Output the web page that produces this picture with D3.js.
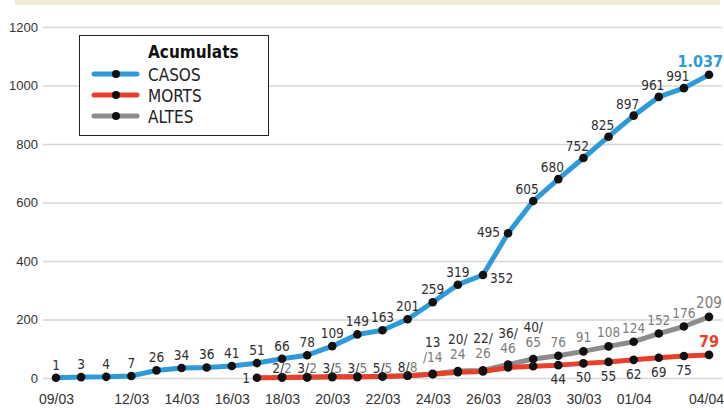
<!DOCTYPE html>
<meta charset="utf-8">
<script src="https://d3js.org/d3.v7.min.js"></script>
<style>
  body { margin: 0; background: #fff; }
  .num { font-family: "Liberation Sans Narrow", "DejaVu Sans Condensed", sans-serif; font-size: 13.5px; }
  .axis text { font-family: "Liberation Sans", Arial, sans-serif; font-size: 13px; fill: #333; }
  .xaxis text { font-size: 14px; }
</style>
<body>
<div id="chart"></div>
<script>
// dates 09/03 .. 04/04
var dates = ["09/03","10/03","11/03","12/03","13/03","14/03","15/03","16/03","17/03","18/03",
  "19/03","20/03","21/03","22/03","23/03","24/03","25/03","26/03","27/03","28/03",
  "29/03","30/03","31/03","01/04","02/04","03/04","04/04"];
var dateTicks = ["09/03","12/03","14/03","16/03","18/03","20/03","22/03","24/03","26/03","28/03","30/03","01/04","04/04"];
var yTicks = [0, 200, 400, 600, 800, 1000, 1200];

// cumulative cases from 09/03
var casos = [1, 3, 4, 7, 26, 34, 36, 41, 51, 66, 78, 109, 149, 163, 201, 259, 319, 352,
  495, 605, 680, 752, 825, 897, 961, 991, 1037];
// deaths from 17/03
var morts = [1, 2, 3, 3, 3, 5, 8, 13, 20, 22, 36, 40, 44, 50, 55, 62, 69, 75, 79];
var mortsStart = 8;
// discharges from 18/03
var altes = [2, 2, 5, 5, 5, 8, 14, 24, 26, 46, 65, 76, 91, 108, 124, 152, 176, 209];
var altesStart = 9;

var seriesNames = ["CASOS", "MORTS", "ALTES"];
var seriesColors = ["#2f9ad8", "#e8402b", "#8c8c8e"];

var W = 724, H = 410;
var svg = d3.select("#chart").append("svg").attr("width", W).attr("height", H);

// top band
svg.append("rect").attr("x", 15).attr("y", 0).attr("width", 705).attr("height", 5).attr("fill", "#eeecd4");

var x = d3.scaleLinear().domain([0, dates.length - 1]).range([56, 709]);
var y = d3.scaleLinear().domain([0, 1200]).range([378, 27]);

// y axis + gridlines
var gy = svg.append("g").attr("class", "axis").attr("transform", "translate(43,0)")
  .call(d3.axisLeft(y).tickValues(yTicks).tickFormat(d3.format("d")).tickSize(-679).tickPadding(5));
gy.select(".domain").remove();
gy.selectAll(".tick line").attr("stroke", "#d6d6d6").attr("stroke-width", 1.6);

// x axis labels
var gx = svg.append("g").attr("class", "axis xaxis").attr("transform", "translate(0,394)")
  .call(d3.axisBottom(x).tickValues(dateTicks.map(function(d) { return dates.indexOf(d); }))
    .tickFormat(function(i) { return dates[i]; }).tickSize(0).tickPadding(0));
gx.select(".domain").remove();
gx.selectAll(".tick text").attr("dy", "0.71em").attr("x", function(i) { return i === dates.length - 1 ? -3 : 0; });

function pts(vals, start) {
  return vals.map(function(v, k) { return { i: start + k, v: v }; });
}
var pC = pts(casos, 0), pM = pts(morts, mortsStart), pA = pts(altes, altesStart);

var line = d3.line().x(function(d) { return x(d.i); }).y(function(d) { return y(d.v); });

// lines: altes under morts under casos
[[pA, 2], [pM, 1], [pC, 0]].forEach(function(s) {
  svg.append("path").datum(s[0]).attr("d", line).attr("fill", "none")
    .attr("stroke", seriesColors[s[1]]).attr("stroke-width", 5)
    .attr("stroke-linejoin", "round").attr("stroke-linecap", "round");
});
[pA, pM, pC].forEach(function(p) {
  svg.append("g").selectAll("circle").data(p).join("circle")
    .attr("cx", function(d) { return x(d.i); }).attr("cy", function(d) { return y(d.v); })
    .attr("r", 4.3).attr("fill", "#111");
});

var dark = "#2e2e2e", grey = "#7c7c7c";
var lab = svg.append("g").attr("class", "num");

// casos labels
pC.forEach(function(d, k) {
  var px = x(d.i), py = y(d.v);
  if (k === pC.length - 1) {
    lab.append("text").attr("x", 723).attr("y", py - 8).attr("text-anchor", "end")
      .attr("fill", seriesColors[0]).style("font-weight", "bold").style("font-size", "16px")
      .text(d3.format(",")(d.v).replace(",", "."));
    return;
  }
  var t = lab.append("text").attr("fill", dark).text(d.v);
  if (k === 17) t.attr("x", px + 7).attr("y", py + 8);
  else if (k === 18) t.attr("x", px - 8).attr("y", py + 4).attr("text-anchor", "end");
  else if (k > 18) t.attr("x", px - 6).attr("y", py - 7).attr("text-anchor", "middle");
  else t.attr("x", px).attr("y", py - 8).attr("text-anchor", "middle");
});

// morts / altes labels
pM.forEach(function(d, k) {
  var px = x(d.i), py = y(d.v);
  var a = pA.find(function(e) { return e.i === d.i; });
  if (!a) {
    lab.append("text").attr("x", px - 7).attr("y", py + 5).attr("text-anchor", "end")
      .attr("fill", dark).text(d.v);
  } else if (d.i <= 14) {
    var t = lab.append("text").attr("x", px).attr("y", y(a.v) - 4).attr("text-anchor", "middle");
    t.append("tspan").attr("fill", dark).text(d.v + "/");
    t.append("tspan").attr("fill", grey).text(a.v);
  } else if (d.i <= 19) {
    var ay = y(a.v) - 12;
    var slashDown = d.i === 15;
    lab.append("text").attr("x", px).attr("y", ay - 15).attr("text-anchor", "middle")
      .attr("fill", dark).text(slashDown ? d.v : d.v + "/");
    lab.append("text").attr("x", px).attr("y", ay).attr("text-anchor", "middle")
      .attr("fill", grey).text(slashDown ? "/" + a.v : a.v);
  } else if (k === pM.length - 1) {
    lab.append("text").attr("x", px).attr("y", py - 8).attr("text-anchor", "middle")
      .attr("fill", seriesColors[1]).style("font-weight", "bold").style("font-size", "16px").text(d.v);
  } else {
    lab.append("text").attr("x", px).attr("y", py + 19).attr("text-anchor", "middle")
      .attr("fill", dark).text(d.v);
  }
});
pA.forEach(function(d, k) {
  if (d.i <= 19) return;
  var last = k === pA.length - 1;
  var t = lab.append("text").attr("x", x(d.i)).attr("y", y(d.v) - 9).attr("text-anchor", "middle")
    .attr("fill", grey).text(d.v);
  if (last) t.style("font-size", "15px");
});

// legend
var lg = svg.append("g").attr("transform", "translate(79,35)");
lg.append("rect").attr("x", 0.5).attr("y", 0.5).attr("width", 189).attr("height", 100)
  .attr("fill", "#fff").attr("stroke", "#222").attr("stroke-width", 1);
lg.append("text").attr("x", 69).attr("y", 23).attr("fill", "#111")
  .style("font-family", "'Liberation Sans Narrow', 'DejaVu Sans Condensed', sans-serif")
  .style("font-size", "17px").style("font-weight", "bold").text("Acumulats");
seriesNames.forEach(function(n, k) {
  var ly = 39 + k * 21;
  lg.append("line").attr("x1", 15).attr("x2", 58).attr("y1", ly).attr("y2", ly)
    .attr("stroke", seriesColors[k]).attr("stroke-width", 5).attr("stroke-linecap", "round");
  lg.append("circle").attr("cx", 37).attr("cy", ly).attr("r", 4).attr("fill", "#111");
  lg.append("text").attr("x", 69).attr("y", ly + 7).attr("fill", "#222")
    .style("font-family", "'Liberation Sans Narrow', 'DejaVu Sans Condensed', sans-serif")
    .style("font-size", "17px").text(n);
});
</script>
</body>
